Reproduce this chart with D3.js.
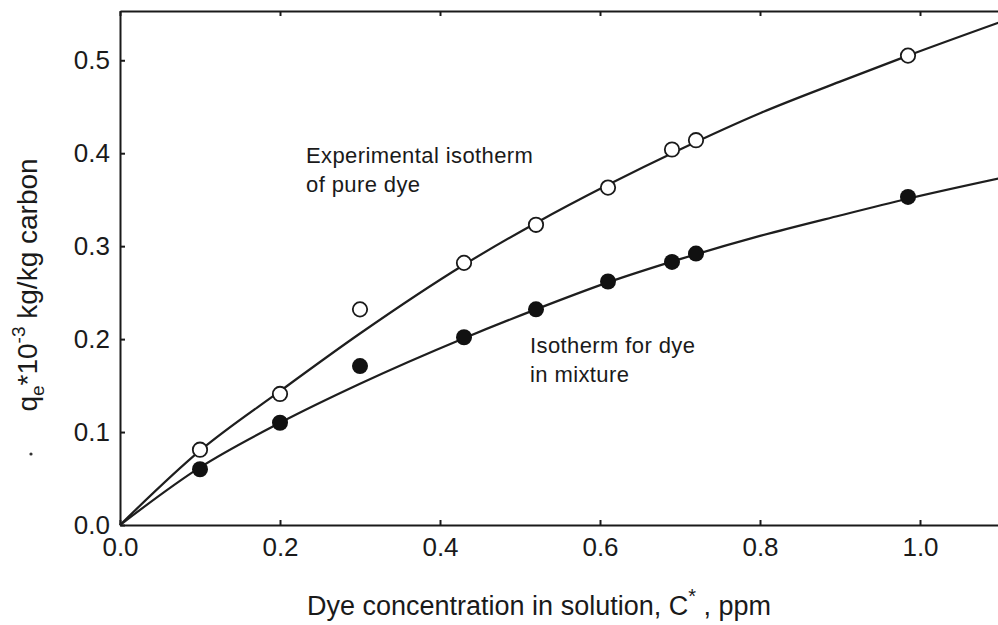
<!DOCTYPE html>
<html>
<head>
<meta charset="utf-8">
<script src="https://cdn.jsdelivr.net/npm/d3@7"></script>
<style>
	body { margin: 0; background: #fff; }
	svg { display: block; font-family: "Liberation Sans", Arial, sans-serif; }
	.axis text { font-size: 26px; fill: #1a1a1a; }
	.axis path, .axis line { stroke: #1a1a1a; stroke-width: 2; }
</style>
</head>
<body>
<div id="chart"></div>
<script>
// measured points (C*, qe)
var conc = [0.1, 0.2, 0.3, 0.43, 0.52, 0.61, 0.69, 0.72, 0.985];
var qPure = [0.081, 0.141, 0.232, 0.282, 0.323, 0.363, 0.404, 0.414, 0.505];
var qMix = [0.060, 0.110, 0.171, 0.202, 0.232, 0.262, 0.283, 0.292, 0.353];

// fitted isotherm curves
var curveX = [0, 0.1, 0.2, 0.3, 0.43, 0.52, 0.61, 0.7, 0.8, 0.9, 0.985, 1.1];
var curvePure = [0, 0.080, 0.144, 0.206, 0.280, 0.325, 0.366, 0.404, 0.443, 0.477, 0.505, 0.541];
var curveMix = [0, 0.062, 0.110, 0.152, 0.201, 0.232, 0.261, 0.286, 0.311, 0.333, 0.351, 0.373];

var xTicks = [0, 0.2, 0.4, 0.6, 0.8, 1.0];
var yTicks = [0, 0.1, 0.2, 0.3, 0.4, 0.5];

var width = 998, height = 625;

var svg = d3.select("#chart").append("svg")
	.attr("width", width)
	.attr("height", height);

var x = d3.scaleLinear().domain([0, 1.1]).range([120, 1000]);
var y = d3.scaleLinear().domain([0, 0.553]).range([525, 11]);

// axes with inward ticks
svg.append("g")
	.attr("class", "axis")
	.attr("transform", "translate(0," + y(0) + ")")
	.call(d3.axisBottom(x).tickValues(xTicks).tickFormat(d3.format(".1f"))
		.tickSizeInner(-5).tickSizeOuter(0).tickPadding(13));

svg.append("g")
	.attr("class", "axis")
	.attr("transform", "translate(" + x(0) + ",0)")
	.call(d3.axisLeft(y).tickValues(yTicks).tickFormat(d3.format(".1f"))
		.tickSizeInner(-5).tickSizeOuter(0).tickPadding(10));

svg.append("g")
	.attr("class", "axis")
	.attr("transform", "translate(0," + y(0.553) + ")")
	.call(d3.axisTop(x).tickValues(xTicks).tickFormat("")
		.tickSizeInner(-5).tickSizeOuter(0));

// curves
var line = d3.line()
	.x(function (d) { return x(d[0]); })
	.y(function (d) { return y(d[1]); })
	.curve(d3.curveMonotoneX);

[curvePure, curveMix].forEach(function (vals) {
	svg.append("path")
		.datum(curveX.map(function (c, i) { return [c, vals[i]]; }))
		.attr("d", line)
		.attr("fill", "none")
		.attr("stroke", "#1e1e1e")
		.attr("stroke-width", 2.2);
});

// markers
svg.selectAll("circle.pure")
	.data(conc).enter().append("circle")
	.attr("class", "pure")
	.attr("cx", function (d) { return x(d); })
	.attr("cy", function (d, i) { return y(qPure[i]); })
	.attr("r", 7.2)
	.attr("fill", "#fff")
	.attr("stroke", "#1a1a1a")
	.attr("stroke-width", 1.8);

svg.selectAll("circle.mix")
	.data(conc).enter().append("circle")
	.attr("class", "mix")
	.attr("cx", function (d) { return x(d); })
	.attr("cy", function (d, i) { return y(qMix[i]); })
	.attr("r", 8)
	.attr("fill", "#111");

// annotations
function note(lines, px, py) {
	var t = svg.append("text")
		.attr("x", px).attr("y", py)
		.attr("font-size", 22)
		.attr("letter-spacing", 0.4)
		.attr("fill", "#1a1a1a");
	lines.forEach(function (s, i) {
		t.append("tspan").attr("x", px).attr("dy", i ? 29 : 0).text(s);
	});
}
note(["Experimental isotherm", "of pure dye"], 306, 163);
note(["Isotherm for dye", "in mixture"], 530, 353);

// axis titles
var xt = svg.append("text")
	.attr("x", 307).attr("y", 615)
	.attr("font-size", 27)
	.attr("fill", "#1a1a1a");
xt.append("tspan").text("Dye concentration in solution, C");
xt.append("tspan").attr("dy", -12).attr("font-size", 20).text("*");
xt.append("tspan").attr("dy", 12).text(" , ppm");

var yt = svg.append("text")
	.attr("transform", "translate(37,285) rotate(-90)")
	.attr("text-anchor", "middle")
	.attr("font-size", 28)
	.attr("fill", "#1a1a1a");
yt.append("tspan").text("q");
yt.append("tspan").attr("dy", 7).attr("font-size", 19).text("e");
yt.append("tspan").attr("dy", -7).text("*10");
yt.append("tspan").attr("dy", -12).attr("font-size", 19).text("-3");
yt.append("tspan").attr("dy", 12).text(" kg/kg carbon");

// stray scan dot
svg.append("circle").attr("cx", 31).attr("cy", 454).attr("r", 1.6).attr("fill", "#333");
</script>
</body>
</html>
